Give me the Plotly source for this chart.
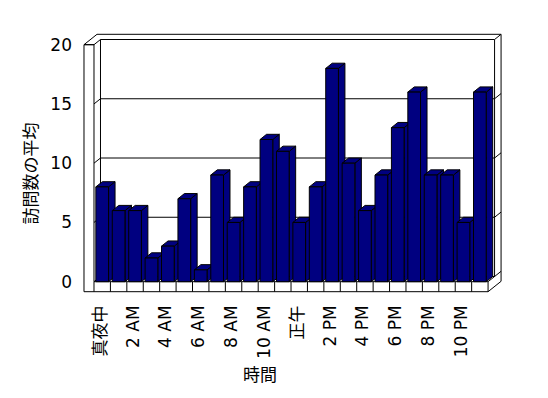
import plotly.graph_objects as go

# ---- data ----
hours = list(range(24))
visits = [8, 6, 6, 2, 3, 7, 1, 9, 5, 8, 12, 11, 5, 8, 18, 10, 6, 9, 13, 16, 9, 9, 5, 16]
tick_positions = [0, 2, 4, 6, 8, 10, 12, 14, 16, 18, 20, 22]
tick_labels = ["真夜中", "2 AM", "4 AM", "6 AM", "8 AM", "10 AM", "正午",
               "2 PM", "4 PM", "6 PM", "8 PM", "10 PM"]
y_ticks = [0, 5, 10, 15, 20]
y_title = "訪問数の平均"
x_title = "時間"

# ---- layout geometry (pixels) ----
W, H = 548, 398
L, R, T, B = 76, 512, 24, 298
PX0, PXU = 102.2, 16.42   # pixel of x=0, pixels per category
PY0, PYU = 281.7, 11.85   # pixel of y=0, pixels per unit
xr = [(L - PX0) / PXU, (R - PX0) / PXU]
yr = [(PY0 - B) / PYU, (PY0 - T) / PYU]

DX, DY = 6.5 / PXU, 5.2 / PYU     # depth offset
WL, FT = 10 / PXU, 10 / PYU       # wall / floor thickness
BW = 12.7 / PXU                   # bar front width
X0, X1 = -0.5, len(hours) - 0.5
YMAX = 20

NAVY = "#000080"
shapes = []

def line(pts, fill=None):
    path = "M " + " L ".join(f"{x},{y}" for x, y in pts)
    if fill:
        path += " Z"
    shapes.append(dict(type="path", path=path, xref="x", yref="y", layer="below",
                       line=dict(color="black", width=1),
                       fillcolor=fill if fill else "rgba(0,0,0,0)"))

# back wall face
line([(X0 + DX, DY), (X0 + DX, YMAX + DY), (X1 + DX, YMAX + DY), (X1 + DX, DY)], fill="white")
# gridlines on wall
for v in y_ticks[:-1]:
    line([(X0 - WL, v), (X0, v), (X0 + DX, v + DY), (X1 + DX, v + DY), (X1 + 2 * DX, v + 2 * DY)])
# front face of left wall + floor
line([(X0 - WL, YMAX), (X0 - WL, -FT), (X1, -FT), (X1, 0), (X0, 0), (X0, YMAX)], fill="white")
line([(X0 - WL, YMAX), (X0, YMAX)])
for k in range(len(hours)):
    line([(k - 0.5, -FT), (k - 0.5, 0)])
# top edges
line([(X0 - WL, YMAX), (X0 - WL + 2 * DX, YMAX + 2 * DY), (X1 + 2 * DX, YMAX + 2 * DY)])
line([(X0, YMAX), (X0 + DX, YMAX + DY)])
line([(X1 + DX, YMAX + DY), (X1 + 2 * DX, YMAX + 2 * DY)])
# right outer edges
line([(X1 + 2 * DX, YMAX + 2 * DY), (X1 + 2 * DX, -FT + 2 * DY), (X1, -FT)])
line([(X1, 0), (X1 + DX, DY)])

# 3D bar side and top faces
for i, v in zip(hours, visits):
    xl, xrt = i - BW / 2, i + BW / 2
    line([(xrt, 0), (xrt + DX, DY), (xrt + DX, v + DY), (xrt, v)], fill=NAVY)
    line([(xl, v), (xrt, v), (xrt + DX, v + DY), (xl + DX, v + DY)], fill=NAVY)

fig = go.Figure()
fig.add_trace(go.Bar(x=hours, y=visits, width=BW,
                     marker=dict(color=NAVY, line=dict(color="black", width=1)),
                     hoverinfo="skip"))

FONT = "DejaVu Sans, Noto Sans CJK JP"

fig.update_layout(
    width=W, height=H, autosize=False,
    margin=dict(l=L, r=W - R, t=T, b=H - B, pad=0),
    paper_bgcolor="white", plot_bgcolor="white",
    showlegend=False, hovermode=False,
    shapes=shapes,
    font=dict(family=FONT, size=14, color="black"),
    xaxis=dict(range=xr, showgrid=False, zeroline=False, showline=False,
               tickmode="array", tickvals=tick_positions, ticktext=tick_labels,
               tickangle=-90, ticks="", ticklabelstandoff=3, ticklabelshift=-2,
               automargin=False, ticklabeloverflow="allow",
               tickfont=dict(family=FONT, size=17, color="black")),
    yaxis=dict(range=yr, showgrid=False, zeroline=False, showline=False,
               tickmode="array", tickvals=y_ticks, ticks="", ticklabelstandoff=3,
               automargin=False,
               tickfont=dict(family=FONT, size=17, color="black")),
    annotations=[
        dict(text=y_title, textangle=-90, showarrow=False,
             xref="paper", yref="paper",
             x=(29 - L) / (R - L), y=(B - 173.5) / (B - T),
             xanchor="center", yanchor="middle",
             font=dict(family="Noto Sans CJK JP", size=17, color="black")),
        dict(text=x_title, showarrow=False,
             xref="paper", yref="paper",
             x=(260 - L) / (R - L), y=(B - 374) / (B - T),
             xanchor="center", yanchor="middle",
             font=dict(family="Noto Sans CJK JP", size=17, color="black")),
    ],
)

fig.write_html("out.html",
               config={"displayModeBar": False, "staticPlot": True},
               post_script="document.body.style.margin='0px';document.body.style.overflow='hidden';")
